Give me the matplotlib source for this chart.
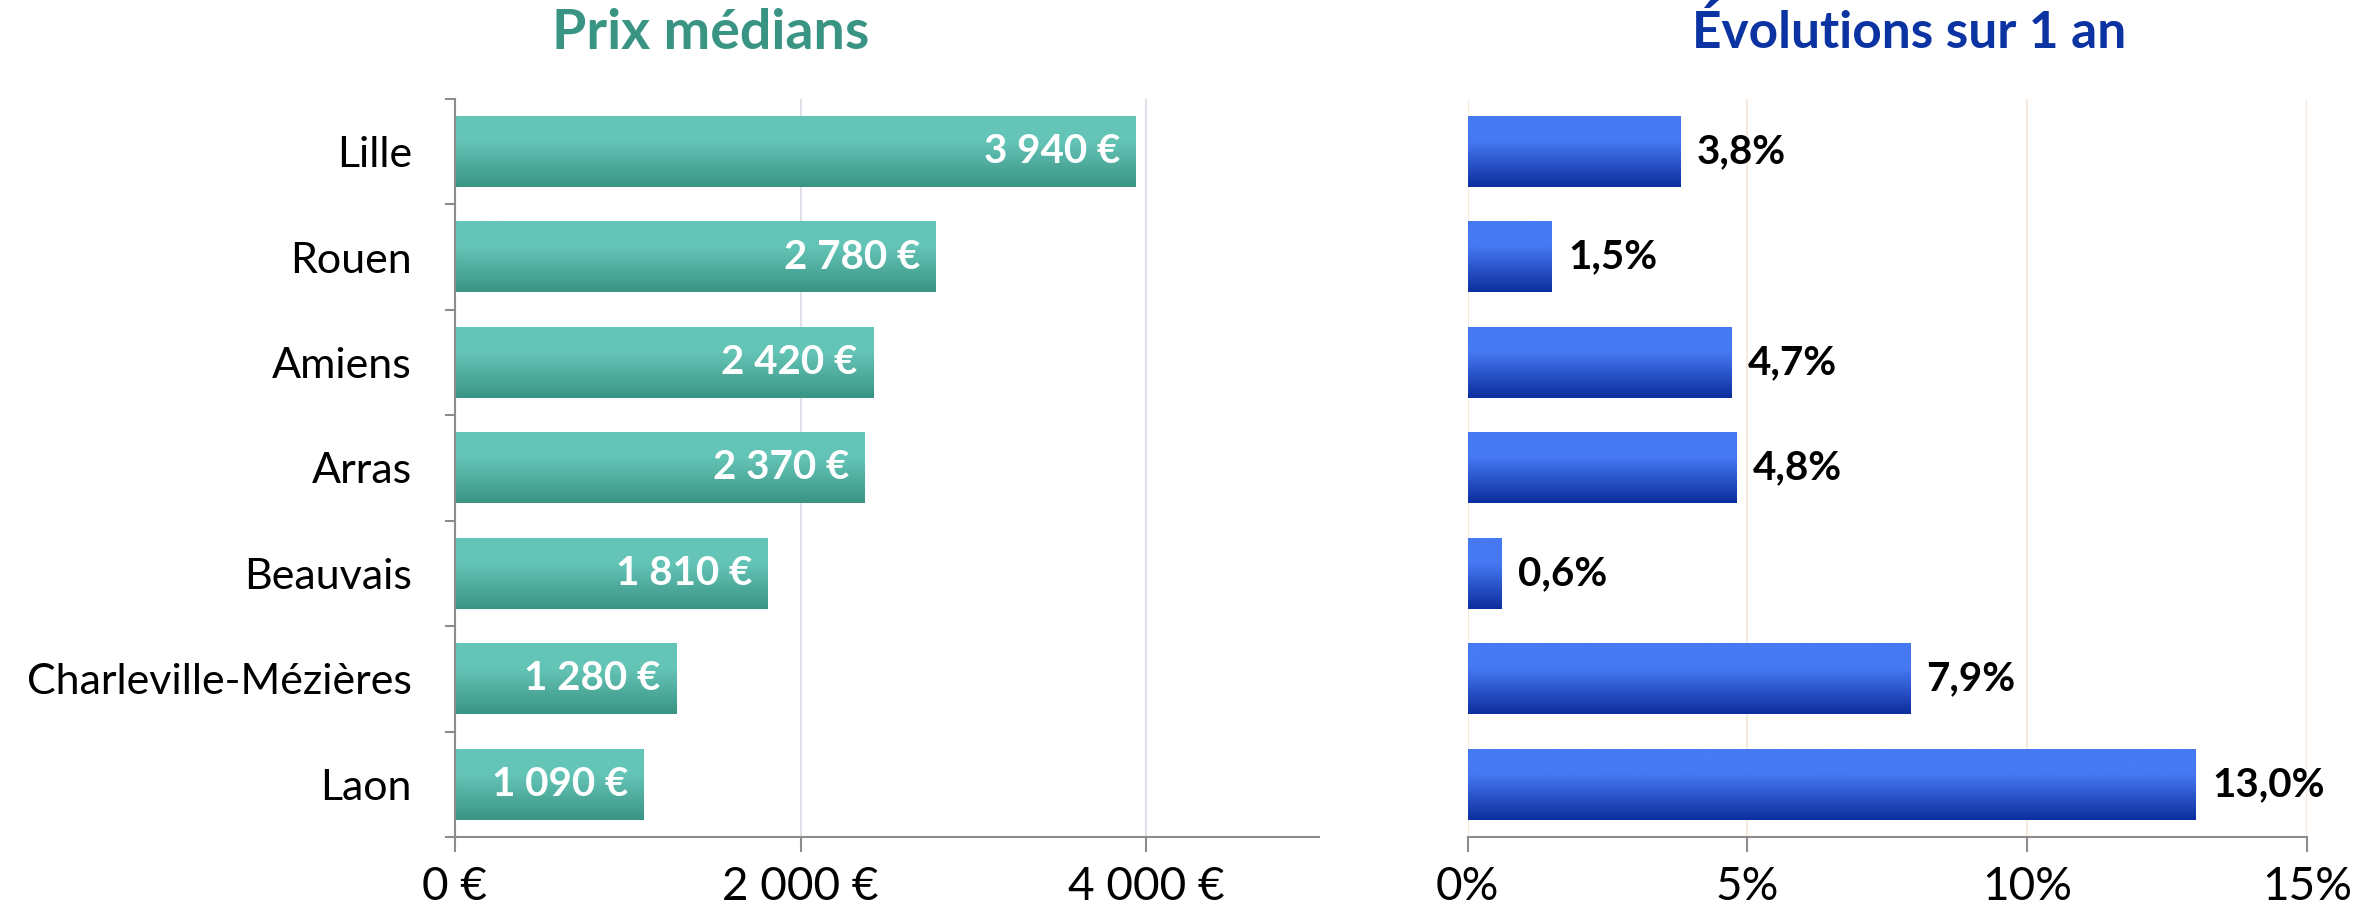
import matplotlib
matplotlib.use("Agg")
import matplotlib.pyplot as plt
import matplotlib.ticker as ticker
from matplotlib.colors import LinearSegmentedColormap
import numpy as np

villes = ["Lille", "Rouen", "Amiens", "Arras", "Beauvais",
          "Charleville-Mézières", "Laon"]
prix = [3940, 2780, 2420, 2370, 1810, 1280, 1090]
evolutions = [3.8, 1.5, 4.7, 4.8, 0.6, 7.9, 13.0]
prix_ticks = [0, 2000, 4000]
evol_ticks = [0, 5, 10, 15]

plt.rcParams['font.family'] = ['Lato', 'DejaVu Sans']

TEAL_TOP, TEAL_BOT = "#64c5b7", "#3a9484"
BLUE_TOP, BLUE_BOT = "#4679f3", "#0c2d9d"
AXIS_GRAY = "#8c8c8c"


def gradient_bars(ax, bars, top, bottom):
    cmap = LinearSegmentedColormap.from_list("g", [(0, top), (0.35, top), (1, bottom)])
    grad = np.linspace(0, 1, 256).reshape(-1, 1)
    for p in bars.patches:
        x0, y0, x1, y1 = p.get_bbox().extents
        ax.imshow(grad, cmap=cmap, aspect="auto", origin="upper",
                  extent=(x0, x1, y1, y0), zorder=2, interpolation="bicubic")
        p.set_visible(False)


def fmt_euro(v, pos=None):
    return "{:,}".format(int(v)).replace(",", " ") + " €"


def fmt_pct(v, pos=None):
    return "{:d}%".format(int(v))


fig = plt.figure(figsize=(23.77, 9.17), dpi=100)
ax1 = fig.add_axes([0.1914, 0.0872, 0.3635, 0.805])
ax2 = fig.add_axes([0.6174, 0.0872, 0.3532, 0.805])

y = np.arange(len(villes))

# --- prix medians
b1 = ax1.barh(y, prix, height=0.67)
gradient_bars(ax1, b1, TEAL_TOP, TEAL_BOT)
ax1.set_xlim(0, 5000)
ax1.set_ylim(len(villes) - 0.5, -0.5)
ax1.set_xticks(prix_ticks)
ax1.xaxis.set_major_formatter(ticker.FuncFormatter(fmt_euro))
ax1.set_yticks(y)
ax1.set_yticklabels(villes)
ax1.set_yticks(np.arange(len(villes) + 1) - 0.5, minor=True)
ax1.tick_params(axis="y", which="major", length=0, pad=31, labelsize=31)
ax1.tick_params(axis="y", which="minor", length=7, width=1.5, color=AXIS_GRAY, direction="out")
ax1.tick_params(axis="x", length=11, width=1.5, color=AXIS_GRAY, pad=10, labelsize=33)
ax1.grid(axis="x", color="#dde1ea", lw=1.5, zorder=0)
ax1.set_axisbelow(True)
for s in ["top", "right"]:
    ax1.spines[s].set_visible(False)
for s in ["left", "bottom"]:
    ax1.spines[s].set_color(AXIS_GRAY)
    ax1.spines[s].set_linewidth(1.5)
for yi, v in zip(y, prix):
    ax1.text(v - 90, yi, fmt_euro(v), ha="right", va="center", color="white",
             fontsize=29, fontweight="bold", zorder=3)

# --- evolutions
b2 = ax2.barh(y, evolutions, height=0.67)
gradient_bars(ax2, b2, BLUE_TOP, BLUE_BOT)
ax2.set_xlim(0, 15)
ax2.set_ylim(len(villes) - 0.5, -0.5)
ax2.set_xticks(evol_ticks)
ax2.xaxis.set_major_formatter(ticker.FuncFormatter(fmt_pct))
ax2.set_yticks([])
ax2.tick_params(axis="x", length=11, width=1.5, color=AXIS_GRAY, pad=10, labelsize=33)
ax2.grid(axis="x", color="#f7e9dc", lw=1.5, zorder=0)
ax2.set_axisbelow(True)
for s in ["top", "right", "left"]:
    ax2.spines[s].set_visible(False)
ax2.spines["bottom"].set_color(AXIS_GRAY)
ax2.spines["bottom"].set_linewidth(1.5)
for yi, v in zip(y, evolutions):
    ax2.text(v + 0.3, yi, "{:.1f}%".format(v).replace(".", ","), ha="left", va="center",
             color="black", fontsize=29, fontweight="bold", zorder=3)

fig.text(0.299, 0.964, "Prix médians", ha="center", va="center", color="#3a9484",
         fontsize=40, fontweight="bold")
fig.text(0.803, 0.964, "Évolutions sur 1 an", ha="center", va="center", color="#0b33a2",
         fontsize=37, fontweight="bold")

fig.savefig("out.png", dpi=100)
